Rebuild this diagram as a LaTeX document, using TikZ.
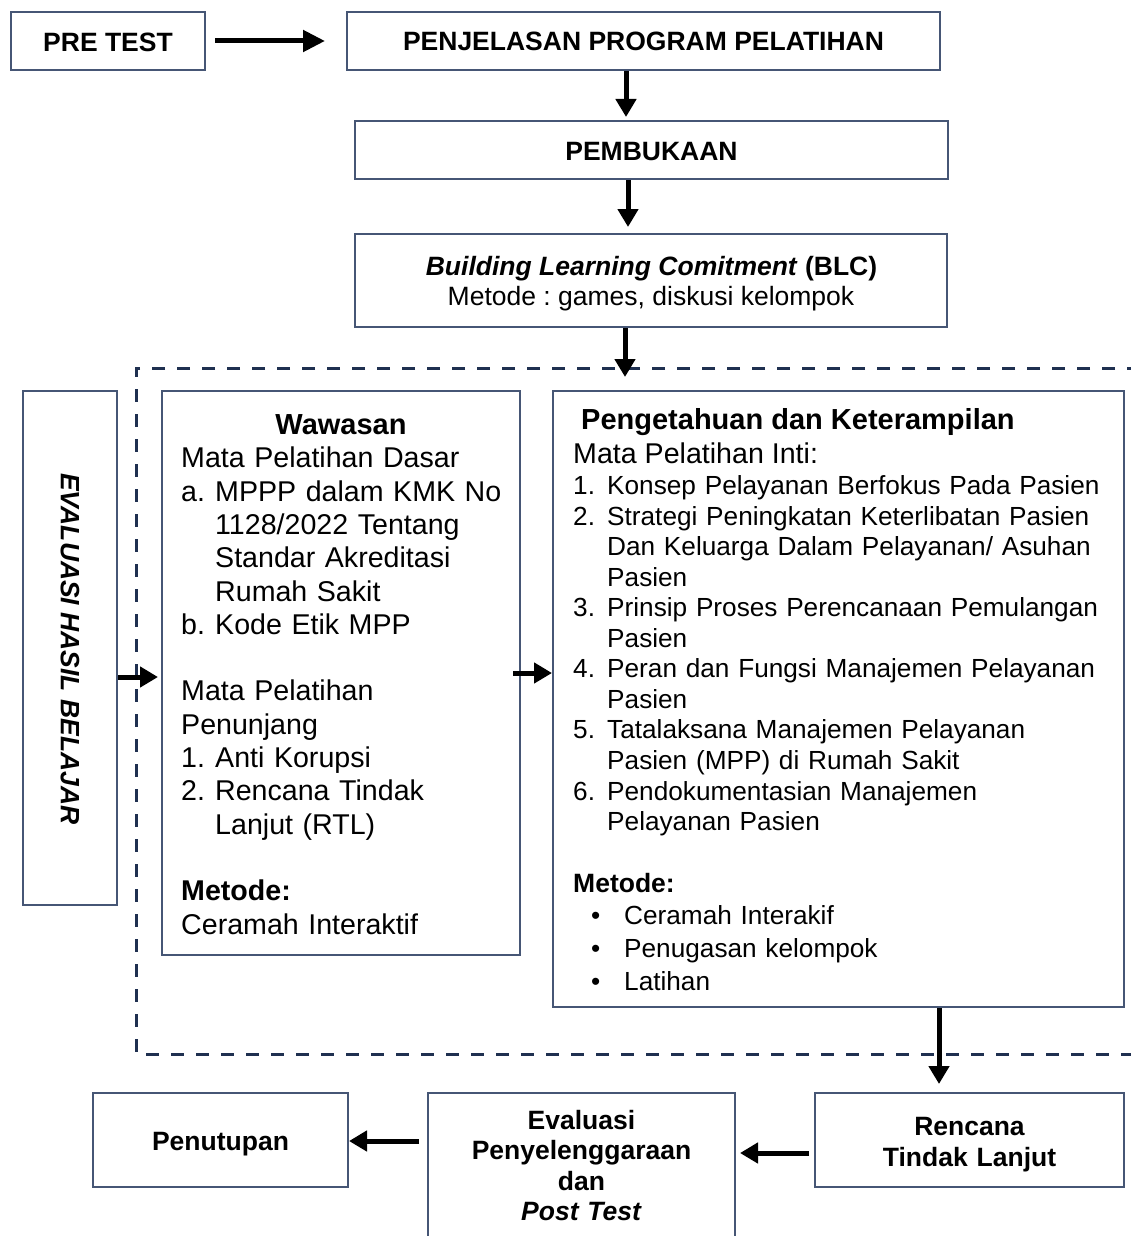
\documentclass[tikz,border=0pt]{standalone}
\usepackage{fontspec}
\setmainfont{Liberation Sans}
\usetikzlibrary{arrows.meta}
\definecolor{boxline}{HTML}{465675}
\definecolor{dashline}{HTML}{1F3050}
\newcommand\fA{\fontsize{26.5}{30.5}\selectfont}
\newcommand\fB{\fontsize{29}{33.3}\selectfont}
\newcommand\fL{\fontsize{28.6}{33.3}\selectfont}
\newcommand\fR{\fontsize{26.2}{30.55}\selectfont}
\newcommand\itemlbl[1]{\makebox[34pt][l]{#1}}
\newcommand\bulletlbl{\makebox[33pt][l]{\textbullet}}
\frenchspacing
\begin{document}
\begin{tikzpicture}[x=1pt,y=-1pt,
  box/.style={draw=boxline, line width=2pt, fill=white, inner sep=0pt},
  arr/.style={line width=5pt, -{Triangle[length=18pt,width=20pt]}},
  bigarr/.style={line width=5pt, -{Triangle[length=22pt,width=21pt]}},
  grpline/.style={draw=dashline, line width=3pt, dash pattern=on 13pt off 12pt},
  txt/.style={inner sep=0pt, text=black}]
\useasboundingbox (0,0) rectangle (1131,1236);
\clip (0,0) rectangle (1131,1236);

% dashed group
\draw[grpline] (1140,368) -- (136,368) -- (136,1054) -- (1140,1054);

% top boxes
\node[box, minimum width=194pt, minimum height=58pt] (pre) at (108,41) {};
\node[txt, anchor=base, font=\fA\bfseries] (pret) at (108,51.5) {PRE TEST};
\node[box, minimum width=593pt, minimum height=58pt] (penj) at (643.5,41) {};
\node[txt, anchor=base, font=\fA\bfseries] (penjt) at (643.5,51) {PENJELASAN PROGRAM PELATIHAN};
\node[box, minimum width=593pt, minimum height=58pt] (pemb) at (651.5,150) {};
\node[txt, anchor=base, font=\fA\bfseries] (pembt) at (651.5,160.5) {PEMBUKAAN};
\node[box, minimum width=592pt, minimum height=93pt] (blc) at (651,280.5) {};
\node[txt, anchor=base, font=\fA] (blct1) at (651.5,275.5) {\textbf{\textit{Building Learning Comitment}} \textbf{(BLC)}};
\node[txt, anchor=base, font=\fA] (blct2) at (651,305.5) {Metode : games, diskusi kelompok};

% evaluasi hasil belajar
\node[box, minimum width=94pt, minimum height=514pt] (evh) at (70,648) {};
\node[txt, rotate=-90, font=\fA\bfseries\itshape] (evht) at (70,649) {EVALUASI HASIL BELAJAR};

% wawasan
\node[box, minimum width=358pt, minimum height=564pt] (waw) at (341,673) {};
\node[txt, anchor=base, font=\fB\bfseries] (wawt) at (341,434.5) {Wawasan};
\node[txt, anchor=base west, font=\fL, text width=335pt, align=left] (wawb) at (181,467.8) {Mata Pelatihan Dasar\\
\itemlbl{a.}MPPP dalam KMK No\\
\hspace*{34pt}1128/2022 Tentang\\
\hspace*{34pt}Standar Akreditasi\\
\hspace*{34pt}Rumah Sakit\\
\itemlbl{b.}Kode Etik MPP\\
\mbox{}\\
Mata Pelatihan\\
Penunjang\\
\itemlbl{1.}Anti Korupsi\\
\itemlbl{2.}Rencana Tindak\\
\hspace*{34pt}Lanjut (RTL)\\
\mbox{}\\
\textbf{Metode:}\\
Ceramah Interaktif};

% pengetahuan
\node[box, minimum width=571pt, minimum height=616pt] (peng) at (838.5,699) {};
\node[txt, anchor=base west, font=\fB\bfseries] (pengt) at (581,429.4) {Pengetahuan dan Keterampilan};
\node[txt, anchor=base west, font=\fL] (pengi) at (573,463) {Mata Pelatihan Inti:};
\node[txt, anchor=base west, font=\fR, text width=545pt, align=left] (pengl) at (573,494.5) {\itemlbl{1.}Konsep Pelayanan Berfokus Pada Pasien\\
\itemlbl{2.}Strategi Peningkatan Keterlibatan Pasien\\
\hspace*{34pt}Dan Keluarga Dalam Pelayanan/ Asuhan\\
\hspace*{34pt}Pasien\\
\itemlbl{3.}Prinsip Proses Perencanaan Pemulangan\\
\hspace*{34pt}Pasien\\
\itemlbl{4.}Peran dan Fungsi Manajemen Pelayanan\\
\hspace*{34pt}Pasien\\
\itemlbl{5.}Tatalaksana Manajemen Pelayanan\\
\hspace*{34pt}Pasien (MPP) di Rumah Sakit\\
\itemlbl{6.}Pendokumentasian Manajemen\\
\hspace*{34pt}Pelayanan Pasien};
\node[txt, anchor=base west, font=\fA\bfseries] (pengm) at (573,892.5) {Metode:};
\node[txt, anchor=base west, font=\fontsize{26.2}{33}\selectfont, text width=500pt, align=left] (pengb) at (591,924.5) {\bulletlbl Ceramah Interakif\\
\bulletlbl Penugasan kelompok\\
\bulletlbl Latihan};

% bottom row
\node[box, minimum width=309pt, minimum height=94pt] (rtl) at (969.5,1140) {};
\node[txt, anchor=base, font=\fontsize{26.5}{31}\selectfont\bfseries, text width=300pt, align=center] (rtlt) at (969.5,1135.5) {Rencana\\Tindak Lanjut};
\node[box, minimum width=307pt, minimum height=167pt] (evp) at (581.5,1176.5) {};
\node[txt, anchor=base, font=\fontsize{26.5}{30.3}\selectfont\bfseries, text width=300pt, align=center] (evpt) at (581.5,1129.5) {Evaluasi\\Penyelenggaraan\\dan\\\textit{Post Test}};
\node[box, minimum width=255pt, minimum height=94pt] (tutup) at (220.5,1140) {};
\node[txt, anchor=base, font=\fA\bfseries] (tutupt) at (220.5,1150.5) {Penutupan};

% connector helpers
\coordinate (c1) at (626,0);
\coordinate (c2) at (628,0);
\coordinate (c3) at (625,0);
\coordinate (grp) at (625,377);
\coordinate (c5) at (0,677);
\coordinate (c6) at (0,673);
\coordinate (c7) at (939,0);
\coordinate (c8) at (0,1153);
\coordinate (c9) at (0,1141);

% arrows
\draw[bigarr, shorten <=9pt, shorten >=21pt] (pre.east) -- (penj.west);
\draw[arr, shorten >=3pt] (c1 |- penj.south) -- (c1 |- pemb.north);
\draw[arr, shorten >=6pt] (c2 |- pemb.south) -- (c2 |- blc.north);
\draw[arr] (c3 |- blc.south) -- (grp);
\draw[arr, shorten >=3pt] (evh.east |- c5) -- (waw.west |- c5);
\draw[arr, shorten <=-8pt] (waw.east |- c6) -- (peng.west |- c6);
\draw[arr, shorten >=8pt] (c7 |- peng.south) -- (c7 |- rtl.north);
\draw[arr, shorten <=5pt, shorten >=4pt] (rtl.west |- c8) -- (evp.east |- c8);
\draw[arr, shorten <=8pt] (evp.west |- c9) -- (tutup.east |- c9);
\end{tikzpicture}
\end{document}
